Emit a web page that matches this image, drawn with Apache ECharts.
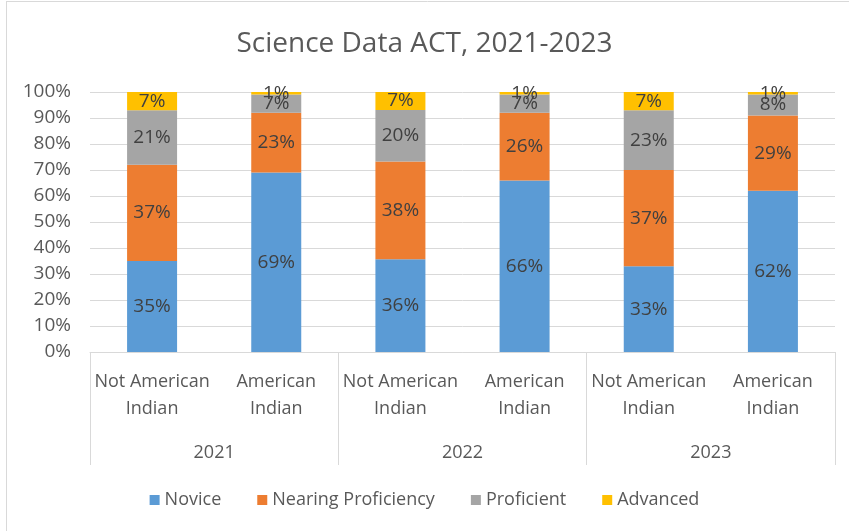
<!DOCTYPE html>
<html>
<head>
<meta charset="utf-8">
<script src="https://cdn.jsdelivr.net/npm/echarts@6/dist/echarts.min.js"></script>
<style>
  html, body { margin: 0; padding: 0; background: #fff; }
  #chart { width: 849px; height: 531px; }
</style>
</head>
<body>
<div id="chart"></div>
<script>
  // categories
  const groups = ['Not American\nIndian', 'American\nIndian', 'Not American\nIndian', 'American\nIndian', 'Not American\nIndian', 'American\nIndian'];
  const years = ['2021', '2022', '2023'];
  const yTicks = ['0%', '10%', '20%', '30%', '40%', '50%', '60%', '70%', '80%', '90%', '100%'];

  // percentages as printed on the bars
  const novice = [35, 69, 36, 66, 33, 62];
  const nearing = [37, 23, 38, 26, 37, 29];
  const proficient = [21, 7, 20, 7, 23, 8];
  const advanced = [7, 1, 7, 1, 7, 1];

  const names = ['Novice', 'Nearing Proficiency', 'Proficient', 'Advanced'];
  const colors = ['#5B9BD5', '#ED7D31', '#A5A5A5', '#FFC000'];
  const raw = [novice, nearing, proficient, advanced];

  // 100% stacked: share of each bar's total
  const totals = groups.map((_, i) => raw.reduce((s, arr) => s + arr[i], 0));

  const font = 'Open Sans, Noto Sans, sans-serif';
  const txt = '#595959';

  const series = raw.map((arr, k) => ({
    name: names[k],
    type: 'bar',
    stack: 'all',
    barWidth: 50,
    xAxisIndex: 0,
    itemStyle: { color: colors[k] },
    label: {
      show: true,
      position: 'inside',
      color: '#404040',
      fontSize: 19,
      fontFamily: font,
      formatter: (p) => arr[p.dataIndex] + '%',
    },
    data: arr.map((v, i) => (v / totals[i]) * 100),
  }));

  const chart = echarts.init(document.getElementById('chart'));
  chart.setOption({
    animation: false,
    title: {
      text: 'Science Data ACT, 2021-2023',
      left: 'center',
      top: 25,
      textStyle: { color: txt, fontSize: 28, fontWeight: 'normal', fontFamily: font },
    },
    legend: {
      bottom: 17,
      left: 'center',
      itemWidth: 10,
      itemHeight: 10,
      itemGap: 36,
      icon: 'rect',
      textStyle: { color: txt, fontSize: 18, fontFamily: font },
      data: names,
    },
    grid: { left: 90, right: 14, top: 92, bottom: 179, containLabel: false },
    xAxis: [
      {
        type: 'category',
        data: groups,
        axisLine: { show: true, lineStyle: { color: '#d9d9d9' } },
        axisTick: { show: false },
        axisLabel: { color: txt, fontSize: 18, fontFamily: font, margin: 16, lineHeight: 27, interval: 0 },
      },
      {
        type: 'category',
        data: years,
        position: 'bottom',
        axisLine: { show: false },
        axisTick: { show: true, length: 113, lineStyle: { color: '#d9d9d9' } },
        axisLabel: { color: txt, fontSize: 18, fontFamily: font, margin: 92 },
      },
    ],
    yAxis: {
      type: 'value',
      min: 0,
      max: 100,
      interval: 10,
      axisLine: { show: false },
      axisTick: { show: false },
      splitLine: { lineStyle: { color: '#d9d9d9' } },
      axisLabel: {
        color: txt,
        fontSize: 19,
        fontFamily: font,
        margin: 19,
        formatter: (v) => yTicks[Math.round(v / 10)],
      },
    },
    graphic: [
      { type: 'line', shape: { x1: 6.5, y1: 1, x2: 6.5, y2: 531 }, style: { stroke: '#d9d9d9', lineWidth: 1 } },
      { type: 'line', shape: { x1: 6, y1: 1.5, x2: 849, y2: 1.5 }, style: { stroke: '#d9d9d9', lineWidth: 1 } },
    ],
    series: series,
  });
</script>
</body>
</html>
